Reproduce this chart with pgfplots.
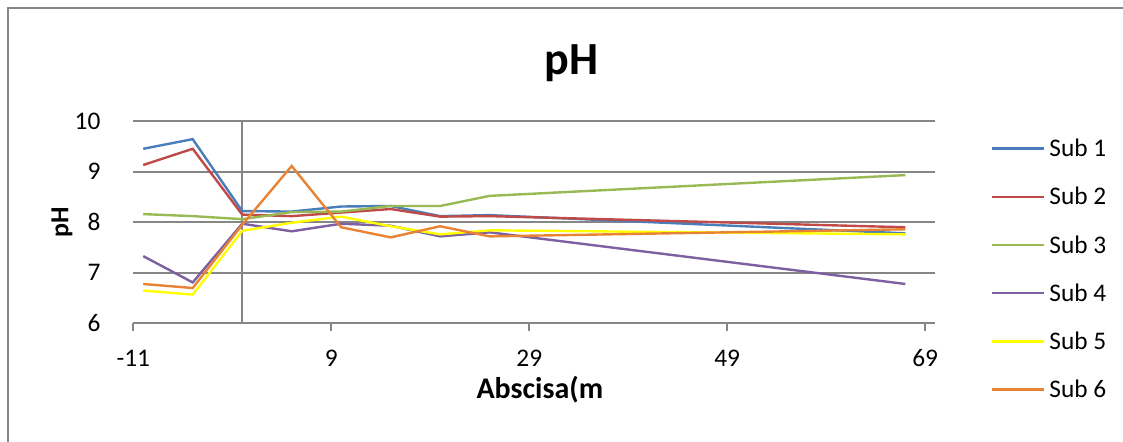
\documentclass[border=0pt]{standalone}
\usepackage{pgfplots}
\pgfplotsset{compat=1.18}
\usepackage{fontspec}
\setmainfont{Carlito}
\definecolor{c1}{RGB}{74,126,187}
\definecolor{c2}{RGB}{190,75,72}
\definecolor{c3}{RGB}{152,185,84}
\definecolor{c4}{RGB}{125,96,160}
\definecolor{c5}{RGB}{255,255,0}
\definecolor{c6}{RGB}{232,131,54}
\definecolor{gridc}{RGB}{134,134,134}
\begin{document}
\begin{tikzpicture}
\useasboundingbox (0,0) rectangle (842.25pt,-331.5pt);
\draw[gridc, line width=1.4pt] (6.2pt,-331.5pt) -- (6.2pt,-6.2pt) -- (842.25pt,-6.2pt);
\node[font=\bfseries\fontsize{34.5}{40}\selectfont, anchor=base] at (428.5pt,-55.7pt) {pH};
\begin{axis}[
  scale only axis, width=601.3pt, height=151.9pt,
  at={(100pt,-242.6pt)}, anchor=south west,
  xmin=-11, xmax=70, ymin=6, ymax=10,
  xtick={-11,9,29,49,69}, xticklabels={-11,9,29,49,69},
  ytick={6,7,8,9,10}, yticklabels={6,7,8,9,10},
  axis x line*=bottom, axis y line*=left,
  x axis line style={gridc, line width=1.5pt, -},
  y axis line style={draw=none},
  xtick style={gridc, line width=1.5pt}, ytick style={draw=none},
  tick align=outside, major tick length=5.5pt,
  ymajorgrids, major grid style={gridc, line width=1.5pt},
  tick label style={font=\fontsize{19}{22}\selectfont},
  xticklabel style={inner sep=0pt, anchor=north, text height=12.4pt, text depth=0pt, yshift=-14pt},
  yticklabel style={inner sep=0pt, anchor=east, xshift=-19pt},
  xlabel={Abscisa(m}, ylabel={pH},
  xlabel style={font=\bfseries\fontsize{22.5}{26}\selectfont, at={(axis description cs:0.507,-0.372)}, anchor=base},
  ylabel style={font=\bfseries\fontsize{19.5}{23}\selectfont, at={(axis description cs:-0.0889,0.501)}, anchor=center},
  legend cell align=left,
  legend image code/.code={\draw[#1, line width=1.8pt] (0pt,0pt) -- (39.5pt,0pt);},
  legend style={at={(axis description cs:1.0686,0.906)}, anchor=north west,
    draw=none, fill=none, inner sep=0pt, row sep=23.75pt, column sep=3pt,
    font=\fontsize{19}{22}\selectfont,
    nodes={inner sep=0pt, text height=12.4pt, text depth=0pt}},
  every axis plot/.append style={line width=1.8pt},
  clip=false,
]
\draw[gridc, line width=1.5pt] (axis cs:0,6) -- (axis cs:0,10);
\addplot[c1] coordinates {(-10,9.45) (-5,9.64) (0,8.22) (5,8.21) (10,8.31) (15,8.32) (20,8.12) (25,8.14) (67,7.78)};
\addlegendentry{Sub 1}
\addplot[c2] coordinates {(-10,9.13) (-5,9.45) (0,8.15) (5,8.12) (10,8.19) (15,8.26) (20,8.11) (25,8.12) (67,7.90)};
\addlegendentry{Sub 2}
\addplot[c3] coordinates {(-10,8.16) (-5,8.12) (0,8.06) (5,8.20) (10,8.21) (15,8.32) (20,8.32) (25,8.52) (67,8.93)};
\addlegendentry{Sub 3}
\addplot[c4] coordinates {(-10,7.33) (-5,6.81) (0,7.97) (5,7.82) (10,7.97) (15,7.93) (20,7.72) (25,7.80) (67,6.78)};
\addlegendentry{Sub 4}
\addplot[c5] coordinates {(-10,6.65) (-5,6.57) (0,7.83) (5,7.99) (10,8.11) (15,7.92) (20,7.76) (25,7.84) (67,7.76)};
\addlegendentry{Sub 5}
\addplot[c6] coordinates {(-10,6.78) (-5,6.70) (0,7.95) (5,9.11) (10,7.90) (15,7.70) (20,7.92) (25,7.72) (67,7.86)};
\addlegendentry{Sub 6}
\end{axis}
\end{tikzpicture}
\end{document}
